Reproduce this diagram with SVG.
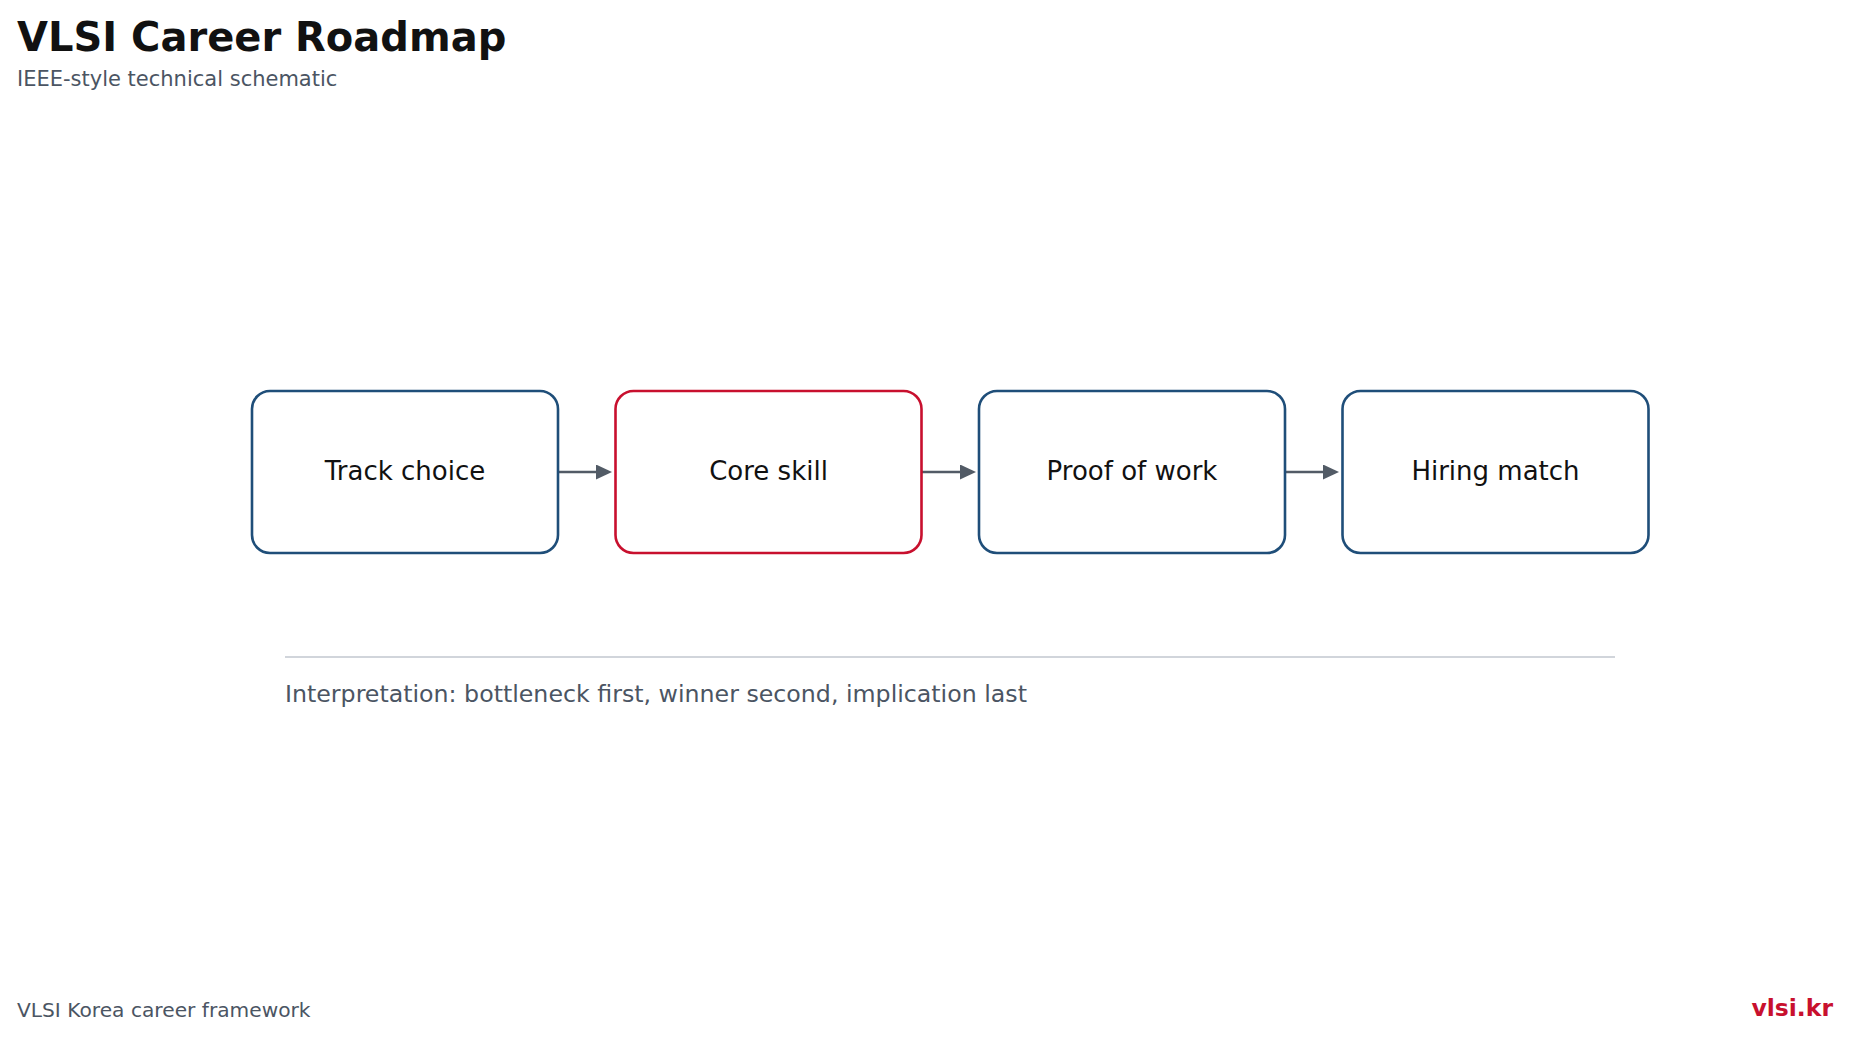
<svg xmlns="http://www.w3.org/2000/svg" width="1849" height="1038" viewBox="0 0 1849 1038">
<defs>
<style>
.node rect{fill:#ffffff;stroke:#1f4e79;stroke-width:2.6}
.node.hl rect{stroke:#c8102e}
.node text{font-family:"DejaVu Sans",sans-serif;font-size:26px;fill:#111111;text-anchor:middle}
.conn line{stroke:#525b66;stroke-width:2.5}
.title{font-family:"DejaVu Sans",sans-serif;font-size:40px;font-weight:bold;fill:#111111}
.sub{font-family:"DejaVu Sans",sans-serif;font-size:21px;fill:#4b5563}
.note{font-family:"DejaVu Sans",sans-serif;font-size:23.7px;fill:#4b5563}
.foot{font-family:"DejaVu Sans",sans-serif;font-size:20.2px;fill:#4b5563}
.brand{font-family:"DejaVu Sans",sans-serif;font-size:23.5px;font-weight:bold;fill:#c8102e;text-anchor:end}
</style>
<marker id="arr" markerUnits="userSpaceOnUse" viewBox="0 0 16 15" markerWidth="16" markerHeight="15" refX="2" refY="7.5" orient="auto">
<path d="M0,0 L16,7.5 L0,15 z" fill="#525b66"/>
</marker>
</defs>
<rect width="1849" height="1038" fill="#ffffff"/>
<text class="title" x="17" y="51">VLSI Career Roadmap</text>
<text class="sub" x="17" y="86">IEEE-style technical schematic</text>

<g id="connectors" class="conn">
<line x1="559" y1="472" x2="598" y2="472" marker-end="url(#arr)"/>
<line x1="922" y1="472" x2="962" y2="472" marker-end="url(#arr)"/>
<line x1="1286" y1="472" x2="1325" y2="472" marker-end="url(#arr)"/>
</g>

<g id="node-track" class="node">
<rect x="252" y="391" width="306" height="162" rx="18"/>
<text x="405" y="480">Track choice</text>
</g>
<g id="node-core" class="node hl">
<rect x="615.5" y="391" width="306" height="162" rx="18"/>
<text x="768.5" y="480">Core skill</text>
</g>
<g id="node-proof" class="node">
<rect x="979" y="391" width="306" height="162" rx="18"/>
<text x="1132" y="480">Proof of work</text>
</g>
<g id="node-hiring" class="node">
<rect x="1342.5" y="391" width="306" height="162" rx="18"/>
<text x="1495.5" y="480">Hiring match</text>
</g>

<line x1="285" y1="657" x2="1615" y2="657" stroke="#d1d5db" stroke-width="2"/>
<text class="note" x="285" y="702">Interpretation: bottleneck first, winner second, implication last</text>

<text class="foot" x="17" y="1017">VLSI Korea career framework</text>
<text class="brand" x="1833" y="1016">vlsi.kr</text>
</svg>
